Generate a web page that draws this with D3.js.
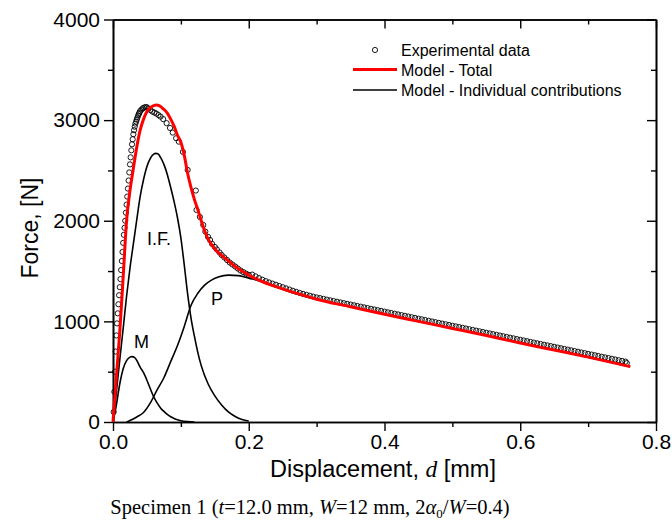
<!DOCTYPE html>
<html>
<head>
<meta charset="UTF-8">
<script src="https://d3js.org/d3.v7.min.js"></script>
<style>
  body { margin: 0; background: #fff; }
  svg { display: block; }
  text { font-family: "Liberation Sans", Arial, sans-serif; fill: #000; }
</style>
</head>
<body>
<svg id="canvas"></svg>
<script>

// experimental data (displacement mm, force N)
expD = [0.001,0.002,0.003,0.004,0.005,0.006,0.007,0.008,0.009,0.010,0.011,0.012,0.013,0.014,0.015,0.016,0.017,0.018,0.019,0.020,
        0.021,0.022,0.023,0.024,0.025,0.026,0.027,0.028,0.029,0.030,0.031,0.032,0.033,0.034,0.035,0.036,0.037,0.038,0.039,0.040,
        0.042,0.044,0.046,0.048,0.050,0.052,0.055,0.058,0.061,0.064,0.067,0.070,0.074,0.079,0.084,0.088,0.093,0.097,0.103,0.110,
        0.122,0.123,0.128,0.133,0.136,0.140,0.143,0.146,0.150,0.153,0.157,0.160,0.164,0.168,0.172,0.176,0.180,0.184,0.188,0.192,0.196,0.200,
        0.205,0.210,0.215,0.220,0.225,0.230,0.235,0.240,0.245,0.250,0.255,0.260,0.265,0.270,0.275,0.280,0.285,0.290,0.295,0.300,
        0.305,0.310,0.315,0.320,0.325,0.330,0.335,0.340,0.345,0.350,0.355,0.360,0.365,0.370,0.375,0.380,0.385,0.390,0.395,0.400,
        0.405,0.410,0.415,0.420,0.425,0.430,0.435,0.440,0.445,0.450,0.455,0.460,0.465,0.470,0.475,0.480,0.485,0.490,0.495,0.500,
        0.505,0.510,0.515,0.520,0.525,0.530,0.535,0.540,0.545,0.550,0.555,0.560,0.565,0.570,0.575,0.580,0.585,0.590,0.595,0.600,
        0.605,0.610,0.615,0.620,0.625,0.630,0.635,0.640,0.645,0.650,0.655,0.660,0.665,0.670,0.675,0.680,0.685,0.690,0.695,0.700,
        0.705,0.710,0.715,0.720,0.725,0.730,0.735,0.740,0.745,0.750,0.755,0.757];
expF = [100,300,500,700,860,980,1080,1170,1260,1340,1420,1510,1600,1690,1780,1860,1930,2000,2080,2160,
        2240,2320,2400,2480,2560,2630,2700,2760,2810,2860,2900,2935,2965,2985,3005,3025,3045,3060,3075,3090,
        3105,3118,3125,3130,3128,3115,3100,3085,3075,3065,3050,3035,3010,2970,2922,2876,2820,2786,2684,2505,
        2300,2107,2038,1958,1892,1840,1809,1770,1740,1715,1685,1660,1635,1610,1585,1565,1545,1525,1505,1490,1475,1462,
        1465,1447,1430,1414,1400,1387,1375,1364,1352,1340,1328,1316,1304,1293,1283,1273,1264,1255,1246,1238,
        1231,1224,1216,1209,1202,1195,1188,1181,1174,1167,1160,1153,1146,1139,1132,1125,1118,1111,1104,1097,
        1090,1083,1076,1069,1062,1055,1048,1041,1034,1027,1020,1013,1006,999,992,985,978,971,964,957,
        950,943,936,929,922,915,908,901,894,887,880,873,866,859,852,845,838,831,824,817,
        810,803,796,789,782,775,768,761,754,747,740,733,726,719,712,705,698,691,684,677,
        670,663,656,649,642,635,628,621,614,607,600,585];

// model - total
totD = [0,0.005,0.01,0.015,0.02,0.025,0.03,0.035,0.04,0.045,0.05,0.055,0.06,0.064,0.068,0.072,0.076,0.08,0.085,0.09,
        0.095,0.1,0.105,0.11,0.115,0.12,0.125,0.13,0.135,0.14,0.145,0.15,0.16,0.17,0.18,0.19,0.2,0.22,0.24,0.26,
        0.28,0.3,0.35,0.4,0.45,0.5,0.55,0.6,0.65,0.7,0.762];
totF = [0,450,900,1440,2000,2300,2520,2730,2900,3010,3085,3125,3145,3151,3145,3125,3100,3070,3010,2940,
        2850,2780,2650,2470,2330,2210,2110,2000,1900,1820,1765,1720,1655,1600,1545,1500,1460,1395,1345,1300,
        1260,1220,1145,1070,1000,930,860,785,715,645,550];

// model - individual contributions
mD  = [0,0.005,0.01,0.015,0.02,0.025,0.028,0.032,0.036,0.04,0.045,0.05,0.055,0.06,0.065,0.07,0.075,0.08,0.085,0.09,0.095,0.1,0.11,0.12];
mF  = [0,170,380,530,610,645,650,640,600,545,490,415,330,250,190,140,105,75,52,35,22,13,4,0];

ifD = [0,0.005,0.01,0.015,0.02,0.025,0.03,0.035,0.04,0.045,0.05,0.055,0.06,0.063,0.066,0.07,0.075,0.08,0.085,0.09,
       0.095,0.1,0.105,0.11,0.115,0.12,0.125,0.13,0.14,0.15,0.16,0.17,0.18,0.19,0.2];
ifF = [0,300,620,930,1250,1530,1770,2010,2240,2410,2540,2620,2662,2670,2665,2630,2560,2460,2330,2190,
       2030,1830,1560,1270,1030,850,690,560,380,260,170,100,55,25,10];

pD  = [0.02,0.025,0.035,0.045,0.055,0.065,0.075,0.085,0.095,0.105,0.115,0.125,0.135,0.145,0.155,0.17,0.185,0.2,0.22,0.24,
       0.26,0.28,0.3,0.35,0.4,0.45,0.5,0.55,0.6,0.65,0.7,0.762];
pF  = [0,15,50,95,190,320,440,600,760,950,1160,1280,1360,1410,1440,1460,1455,1430,1395,1345,
       1300,1260,1220,1145,1070,1000,930,860,785,715,645,550];

xTicks = [0, 0.2, 0.4, 0.6, 0.8];
xMinor = [0.1, 0.3, 0.5, 0.7];
yTicks = [0, 1000, 2000, 3000, 4000];
yMinor = [500, 1500, 2500, 3500];

width = 672;
height = 527;

canvas = d3.select("#canvas")
    .attr("width", width)
    .attr("height", height);

x = d3.scaleLinear().domain([0, 0.8]).range([113, 656]);
y = d3.scaleLinear().domain([0, 4000]).range([422, 19.5]);

// axes
function styleAxis(g) {
    g.select(".domain").attr("stroke", "#000").attr("stroke-width", 1.6);
    g.selectAll(".tick line").attr("stroke", "#000").attr("stroke-width", 1.4);
    g.selectAll(".tick text").style("font-size", "21px").attr("fill", "#000");
}

canvas.append("g").attr("transform", "translate(0,422)")
    .call(d3.axisBottom(x).tickValues(xMinor).tickSize(5).tickFormat("").tickSizeOuter(0))
    .call(styleAxis);
canvas.append("g").attr("transform", "translate(0,422)")
    .call(d3.axisBottom(x).tickValues(xTicks).tickSize(9).tickPadding(3).tickFormat(d3.format(".1f")).tickSizeOuter(0))
    .call(styleAxis);

canvas.append("g").attr("transform", "translate(113,0)")
    .call(d3.axisLeft(y).tickValues(yMinor).tickSize(5).tickFormat("").tickSizeOuter(0))
    .call(styleAxis);
canvas.append("g").attr("transform", "translate(113,0)")
    .call(d3.axisLeft(y).tickValues(yTicks).tickSize(9).tickPadding(4).tickFormat(d3.format("d")).tickSizeOuter(0))
    .call(styleAxis);

// top and right: inward ticks
canvas.append("g").attr("transform", "translate(0,19.5)")
    .call(d3.axisTop(x).tickValues(xMinor).tickSize(-5).tickFormat("").tickSizeOuter(0))
    .call(styleAxis);
canvas.append("g").attr("transform", "translate(0,19.5)")
    .call(d3.axisTop(x).tickValues(xTicks).tickSize(-9).tickFormat("").tickSizeOuter(0))
    .call(styleAxis);
canvas.append("g").attr("transform", "translate(656,0)")
    .call(d3.axisRight(y).tickValues(yMinor).tickSize(-5).tickFormat("").tickSizeOuter(0))
    .call(styleAxis);
canvas.append("g").attr("transform", "translate(656,0)")
    .call(d3.axisRight(y).tickValues(yTicks).tickSize(-9).tickFormat("").tickSizeOuter(0))
    .call(styleAxis);

// experimental points
canvas.append("g").selectAll("circle")
    .data(expD.map((d, i) => [d, expF[i]]))
    .enter()
        .append("circle")
            .attr("cx", (d) => x(d[0]))
            .attr("cy", (d) => y(d[1]))
            .attr("r", 2.6)
            .attr("fill", "none")
            .attr("stroke", "#000")
            .attr("stroke-width", 0.9);

line = d3.line()
    .x((d) => x(d[0]))
    .y((d) => y(d[1]))
    .curve(d3.curveMonotoneX);

function pairs(a, b) { return a.map((d, i) => [d, b[i]]); }

[[mD, mF], [ifD, ifF], [pD, pF]].forEach(function(s) {
    canvas.append("path")
        .attr("d", line(pairs(s[0], s[1])))
        .attr("fill", "none")
        .attr("stroke", "#000")
        .attr("stroke-width", 1.6);
});

canvas.append("path")
    .attr("d", line(pairs(totD, totF)))
    .attr("fill", "none")
    .attr("stroke", "#ff0000")
    .attr("stroke-width", 3);

// component labels
labels = [["M", 134, 348], ["I.F.", 147, 245], ["P", 211, 305]];
canvas.selectAll(".lbl")
    .data(labels)
    .enter()
        .append("text")
            .attr("x", (d) => d[1])
            .attr("y", (d) => d[2])
            .style("font-size", "18px")
            .text((d) => d[0]);

// legend
legend = canvas.append("g");
legend.append("circle").attr("cx", 375).attr("cy", 50).attr("r", 2.6)
    .attr("fill", "none").attr("stroke", "#000").attr("stroke-width", 0.9);
legend.append("line").attr("x1", 353).attr("x2", 397).attr("y1", 69.5).attr("y2", 69.5)
    .attr("stroke", "#ff0000").attr("stroke-width", 3);
legend.append("line").attr("x1", 353).attr("x2", 397).attr("y1", 90).attr("y2", 90)
    .attr("stroke", "#000").attr("stroke-width", 1.4);
["Experimental data", "Model - Total", "Model - Individual contributions"].forEach(function(t, i) {
    legend.append("text").attr("x", 401).attr("y", 56 + i * 20)
        .style("font-size", "16px").text(t);
});

// axis titles
xt = canvas.append("text").attr("x", 383).attr("y", 477)
    .attr("text-anchor", "middle").style("font-size", "23.5px");
xt.append("tspan").text("Displacement, ");
xt.append("tspan").style("font-family", "'Liberation Serif', 'Times New Roman', serif")
    .style("font-style", "italic").text("d");
xt.append("tspan").text(" [mm]");

canvas.append("text")
    .attr("transform", "translate(38,228) rotate(-90)")
    .attr("text-anchor", "middle")
    .style("font-size", "23px")
    .text("Force, [N]");

// caption
cap = canvas.append("text").attr("x", 310).attr("y", 514)
    .attr("text-anchor", "middle")
    .style("font-family", "'Liberation Serif', 'Times New Roman', serif")
    .style("font-size", "20.5px");
cap.append("tspan").text("Specimen 1 (");
cap.append("tspan").style("font-style", "italic").text("t");
cap.append("tspan").text("=12.0 mm, ");
cap.append("tspan").style("font-style", "italic").text("W");
cap.append("tspan").text("=12 mm, 2");
cap.append("tspan").style("font-style", "italic").text("α");
cap.append("tspan").attr("dy", 4).style("font-size", "13px").text("0");
cap.append("tspan").attr("dy", -4).text("/");
cap.append("tspan").style("font-style", "italic").text("W");
cap.append("tspan").text("=0.4)");

</script>
</body>
</html>
